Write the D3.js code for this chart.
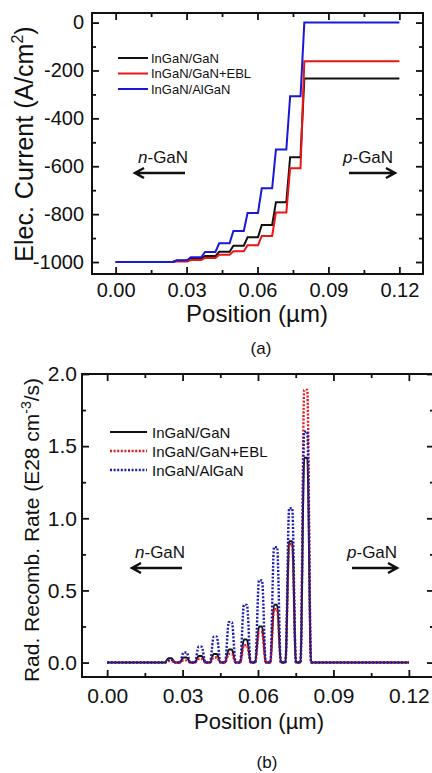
<!DOCTYPE html>
<html>
<head>
<meta charset="utf-8">
<script src="https://cdnjs.cloudflare.com/ajax/libs/d3/7.8.5/d3.min.js"></script>
<style>
  body { margin: 0; background: #fff; }
  text { font-family: "Liberation Sans", Arial, sans-serif; fill: #111; }
</style>
</head>
<body>
<div id="chart"></div>
<script>
// quantum well centres (um)
const wells = [0.025, 0.031, 0.037, 0.043, 0.049, 0.055, 0.061, 0.067, 0.073, 0.079];

const seriesNames = ['InGaN/GaN', 'InGaN/GaN+EBL', 'InGaN/AlGaN'];

const posTicks = [0, 0.03, 0.06, 0.09, 0.12];
const posMinor = [0.015, 0.045, 0.075, 0.105];

// (a) electron current level after each well
const currStart = -1000;
const currTicks = [0, -200, -400, -600, -800, -1000];
const currMinor = [-100, -300, -500, -700, -900];
const currBlack = [-995, -986, -975, -957, -932, -897, -845, -750, -562, -234];
const currRed   = [-998, -992, -983, -970, -955, -930, -891, -793, -608, -162];
const currBlue  = [-993, -980, -958, -922, -870, -795, -692, -530, -308, 0];

// (b) radiative recombination peak in each well
const rateTicks = [0, 0.5, 1.0, 1.5, 2.0];
const rateMinor = [0.25, 0.75, 1.25, 1.75];
const rateBlack = [0.03, 0.035, 0.045, 0.06, 0.09, 0.16, 0.25, 0.40, 0.84, 1.42];
const rateRed   = [0.01, 0.015, 0.025, 0.035, 0.06, 0.12, 0.21, 0.37, 0.82, 1.89];
const rateBlue  = [0.02, 0.07, 0.11, 0.18, 0.28, 0.40, 0.57, 0.80, 1.07, 1.60];

const colors = ['#111111', '#ec1515', '#1818d6'];

const svg = d3.select('#chart').append('svg')
    .attr('width', 432)
    .attr('height', 773);

svg.append('rect').attr('width', 432).attr('height', 773).attr('fill', '#fff');

function drawFrame(g, x, y, o) {
    const [x0, x1] = x.range();
    const [y0, y1] = y.range();

    const axes = [
        [d3.axisBottom(x).tickValues(posTicks).tickSize(-7).tickPadding(o.padX).tickFormat(d3.format('.2f')), `translate(0,${y0})`, o.tickFont],
        [d3.axisBottom(x).tickValues(posMinor).tickSize(-4).tickFormat(''), `translate(0,${y0})`],
        [d3.axisTop(x).tickValues(posTicks).tickSize(-7).tickFormat(''), `translate(0,${y1})`],
        [d3.axisTop(x).tickValues(posMinor).tickSize(-4).tickFormat(''), `translate(0,${y1})`],
        [d3.axisLeft(y).tickValues(o.yTicks).tickSize(-7).tickPadding(o.padY).tickFormat(o.yFormat), `translate(${x0},0)`, o.tickFont],
        [d3.axisLeft(y).tickValues(o.yMinor).tickSize(-4).tickFormat(''), `translate(${x0},0)`],
        [d3.axisRight(y).tickValues(o.yTicks).tickSize(-7).tickFormat(''), `translate(${x1},0)`],
        [d3.axisRight(y).tickValues(o.yMinor).tickSize(-4).tickFormat(''), `translate(${x1},0)`]
    ];
    axes.forEach(([ax, tr, fs]) => {
        const a = g.append('g').attr('transform', tr).call(ax);
        a.select('.domain').remove();
        a.selectAll('line').attr('stroke', '#111').attr('stroke-width', 1.8);
        a.selectAll('text')
            .attr('font-size', fs || 10)
            .attr('fill', '#111')
            .attr('font-family', '"Liberation Sans", Arial, sans-serif');
    });

    g.append('rect')
        .attr('x', x0).attr('y', y1)
        .attr('width', x1 - x0).attr('height', y0 - y1)
        .attr('fill', 'none')
        .attr('stroke', '#111')
        .attr('stroke-width', 2);
}

function arrow(g, xFrom, xTo, yy) {
    const dir = xTo > xFrom ? 1 : -1;
    g.append('path')
        .attr('d', `M${xFrom},${yy}H${xTo}M${xTo - dir * 9},${yy - 5}L${xTo},${yy}L${xTo - dir * 9},${yy + 5}`)
        .attr('fill', 'none')
        .attr('stroke', '#111')
        .attr('stroke-width', 2.5);
}

function regionLabel(g, xx, yy, lead) {
    const t = g.append('text').attr('x', xx).attr('y', yy).attr('font-size', 17);
    t.append('tspan').attr('font-style', 'italic').text(lead);
    t.append('tspan').text('-GaN');
}

// ---------- (a) electron current ----------
const xa = d3.scaleLinear().domain([-0.01, 0.13]).range([92, 423]);
const ya = d3.scaleLinear().domain([-1050, 40]).range([274, 13]);
const ga = svg.append('g');

function stepPoints(levels) {
    const pts = [[0, currStart]];
    let prev = currStart;
    wells.forEach((c, i) => {
        pts.push([c - 0.0008, prev], [c + 0.0008, levels[i]]);
        prev = levels[i];
    });
    pts.push([0.12, prev]);
    return pts;
}

const lineA = d3.line().x(d => xa(d[0])).y(d => ya(d[1]));
[currBlack, currRed, currBlue].forEach((s, i) => {
    ga.append('path')
        .datum(stepPoints(s))
        .attr('d', lineA)
        .attr('fill', 'none')
        .attr('stroke', colors[i])
        .attr('stroke-width', 2);
});

drawFrame(ga, xa, ya, {
    yTicks: currTicks, yMinor: currMinor, yFormat: d => String(d),
    tickFont: 20, padX: 9, padY: 8
});

// legend (a)
seriesNames.forEach((n, i) => {
    const yy = 58 + i * 15.5;
    ga.append('line').attr('x1', 118).attr('x2', 148).attr('y1', yy).attr('y2', yy)
        .attr('stroke', colors[i]).attr('stroke-width', 2);
    ga.append('text').attr('x', 151).attr('y', yy + 4.5).attr('font-size', 13).text(n);
});

regionLabel(ga, 138, 163, 'n');
arrow(ga, 185, 135, 173);
regionLabel(ga, 343, 163, 'p');
arrow(ga, 349, 395, 173);

const ta = ga.append('text')
    .attr('transform', 'translate(33,144) rotate(-90)')
    .attr('text-anchor', 'middle')
    .attr('font-size', 25);
ta.append('tspan').text('Elec. Current (A/cm');
ta.append('tspan').attr('font-size', 16).attr('dy', -10).text('2');
ta.append('tspan').attr('dy', 10).text(')');

ga.append('text').attr('x', 257).attr('y', 322).attr('text-anchor', 'middle')
    .attr('font-size', 24).text('Position (\u00b5m)');
ga.append('text').attr('x', 261).attr('y', 354).attr('text-anchor', 'middle')
    .attr('font-size', 17).text('(a)');

// ---------- (b) radiative recombination ----------
const xb = d3.scaleLinear().domain([-0.01, 0.13]).range([82, 434]);
const yb = d3.scaleLinear().domain([-0.1, 2.0]).range([677, 374]);
const gb = svg.append('g');

function peakPoints(heights) {
    const pts = [[0, 0]];
    wells.forEach((c, i) => {
        pts.push([c - 0.0021, 0], [c - 0.0006, heights[i]], [c + 0.0006, heights[i]], [c + 0.0021, 0]);
    });
    pts.push([0.12, 0]);
    return pts;
}

const lineB = d3.line().x(d => xb(d[0])).y(d => yb(d[1])).curve(d3.curveMonotoneX);
const dashB = [null, '2,1.6', '2,1.6'];
const colorsB = ['#111111', '#e8181e', '#1c1cb4'];
[rateBlack, rateRed, rateBlue].forEach((s, i) => {
    gb.append('path')
        .datum(peakPoints(s))
        .attr('d', lineB)
        .attr('fill', 'none')
        .attr('stroke', colorsB[i])
        .attr('stroke-width', i === 0 ? 2 : 2.4)
        .attr('stroke-dasharray', dashB[i]);
});

drawFrame(gb, xb, yb, {
    yTicks: rateTicks, yMinor: rateMinor, yFormat: d3.format('.1f'),
    tickFont: 21, padX: 11, padY: 5
});

// legend (b)
seriesNames.forEach((n, i) => {
    const yy = 432 + i * 19;
    gb.append('line').attr('x1', 110).attr('x2', 147).attr('y1', yy).attr('y2', yy)
        .attr('stroke', colorsB[i]).attr('stroke-width', i === 0 ? 2.2 : 2.4)
        .attr('stroke-dasharray', dashB[i]);
    gb.append('text').attr('x', 152).attr('y', yy + 5.5).attr('font-size', 15).text(n);
});

regionLabel(gb, 135, 558, 'n');
arrow(gb, 182, 132, 568);
regionLabel(gb, 347, 558, 'p');
arrow(gb, 352, 397, 568);

const tb = gb.append('text')
    .attr('transform', 'translate(39,530) rotate(-90)')
    .attr('text-anchor', 'middle')
    .attr('font-size', 21);
tb.append('tspan').text('Rad. Recomb. Rate (E28 cm');
tb.append('tspan').attr('font-size', 14).attr('dy', -8).text('-3');
tb.append('tspan').attr('dy', 8).text('/s)');

gb.append('text').attr('x', 259).attr('y', 729).attr('text-anchor', 'middle')
    .attr('font-size', 22).text('Position (\u00b5m)');
gb.append('text').attr('x', 267).attr('y', 768).attr('text-anchor', 'middle')
    .attr('font-size', 17).text('(b)');
</script>
</body>
</html>
